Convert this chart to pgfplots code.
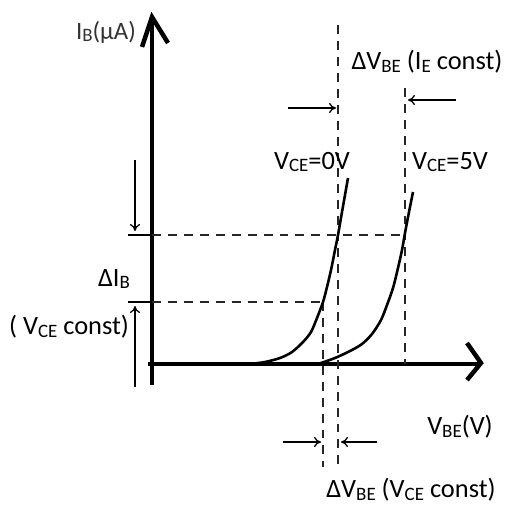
\documentclass[border=0pt]{standalone}
\usepackage{pgfplots}
\pgfplotsset{compat=1.18}
\usepackage{fontspec}
\setmainfont{Carlito}
\usetikzlibrary{arrows.meta}
\newcommand{\sub}[1]{\raisebox{-0.1em}{\fontsize{19}{21}\selectfont #1}}
\newcommand{\bigtxt}{\fontsize{26.5}{30}\selectfont}
\begin{document}
\begin{tikzpicture}
\begin{axis}[
  scale only axis, width=507bp, height=512bp,
  xmin=0, xmax=507, ymin=0, ymax=512, y dir=reverse,
  hide axis, clip=false,
]
\addplot[draw=none] coordinates {(0,0) (507,512)};
% axes
\addplot[black, line width=4.5pt] coordinates {(152,385) (152,18)};
\addplot[black, line width=4.5pt, line join=miter] coordinates {(142,47) (152,17) (168,43)};
\addplot[black, line width=4.5pt] coordinates {(148,364) (479,364)};
\addplot[black, line width=4.5pt, line join=miter] coordinates {(467,343) (481,363) (467,380)};
% dashed guide lines
\addplot[black!85, line width=2pt, dash pattern=on 9pt off 7pt] coordinates {(152,235) (405,235)};
\addplot[black!85, line width=2pt, dash pattern=on 9pt off 7pt] coordinates {(152,302) (323,302)};
\addplot[black, line width=1.4pt] coordinates {(128,235) (152,235)};
\addplot[black, line width=1.4pt] coordinates {(128,302) (152,302)};
\addplot[black!85, line width=2pt, dash pattern=on 9pt off 7pt] coordinates {(338,25) (338,467)};
\addplot[black!85, line width=2pt, dash pattern=on 9pt off 7pt] coordinates {(405,88) (405,364)};
\addplot[black!85, line width=2pt, dash pattern=on 9pt off 7pt] coordinates {(323,302) (323,467)};
% curves
\addplot[black, line width=2.6pt, smooth] coordinates {(250,364) (265,362) (280,358) (292,352) (303,342) (311,332) (317,318) (323,302) (327,287) (331,270) (335,250) (338,235) (342,212) (345,195) (348,178)};
\addplot[black, line width=2.6pt, smooth] coordinates {(318,364) (335,358) (350,351) (362,344) (372,334) (381,320) (387,305) (393,288) (398,268) (402,250) (405,233) (409,212) (413,192)};
% arrows
\addplot[black, line width=1.3pt, -{To[length=7pt,width=10pt]}] coordinates {(135,160) (135,231)};
\addplot[black, line width=1.3pt, -{To[length=7pt,width=10pt]}] coordinates {(135,387) (135,306)};
\addplot[black, line width=1.3pt, -{To[length=7pt,width=10pt]}] coordinates {(288,108) (336,108)};
\addplot[black, line width=1.3pt, -{To[length=7pt,width=10pt]}] coordinates {(456,100) (408,100)};
\addplot[black, line width=1.3pt, -{To[length=7pt,width=10pt]}] coordinates {(283,442) (321,442)};
\addplot[black, line width=1.3pt, -{To[length=7pt,width=10pt]}] coordinates {(377,442) (341,442)};
% texts
\node[font=\fontsize{25}{28}\selectfont, text=black!80] at (axis cs:106,32) {I\sub{B}(μA)};
\node[font=\bigtxt] at (axis cs:427,62) {ΔV\sub{BE} (I\sub{E} const)};
\node[font=\bigtxt] at (axis cs:312,162) {V\sub{CE}=0V};
\node[font=\bigtxt] at (axis cs:450,162) {V\sub{CE}=5V};
\node[font=\bigtxt] at (axis cs:114,279) {ΔI\sub{B}};
\node[font=\bigtxt] at (axis cs:69,327) {( V\sub{CE} const)};
\node[font=\bigtxt] at (axis cs:460,427) {V\sub{BE}(V)};
\node[font=\bigtxt] at (axis cs:411,490) {ΔV\sub{BE} (V\sub{CE} const)};
\end{axis}
\end{tikzpicture}
\end{document}
